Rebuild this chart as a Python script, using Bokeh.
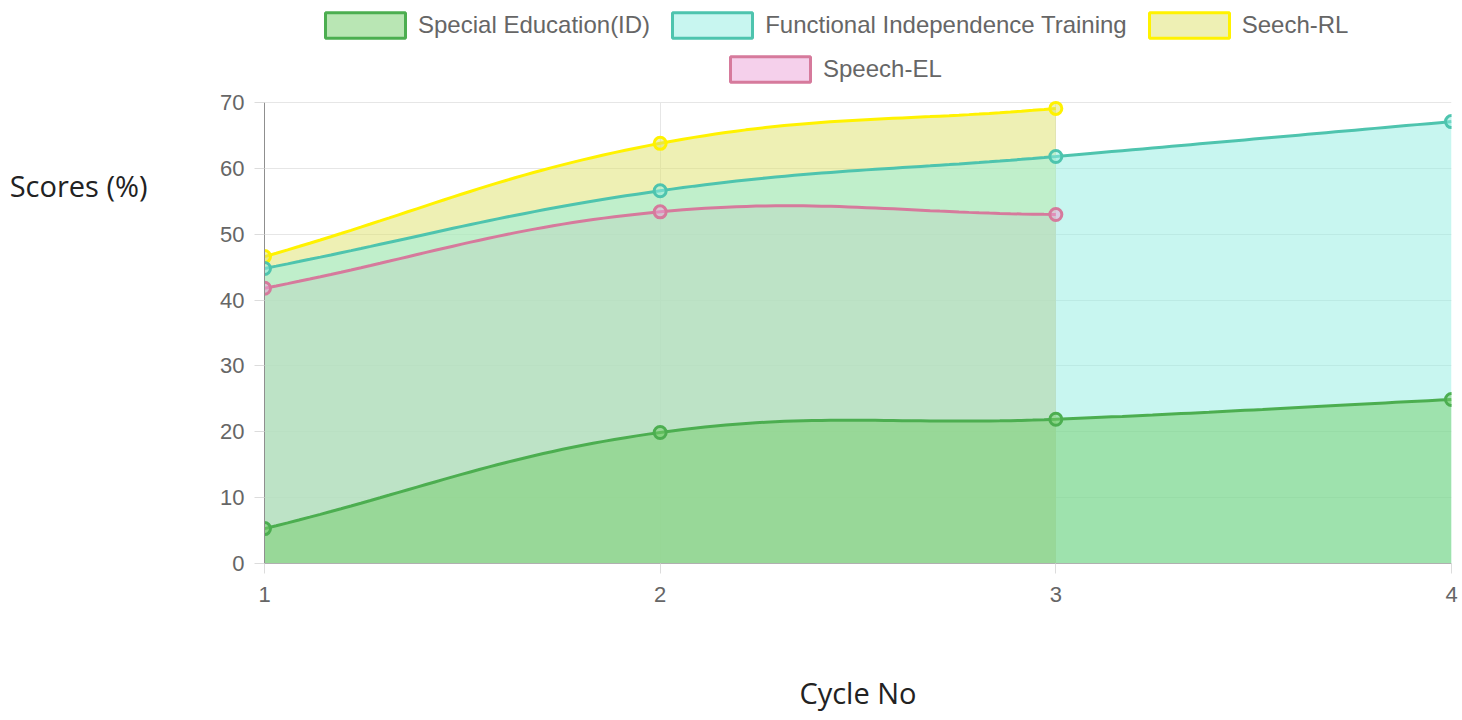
import numpy as np
from bokeh.plotting import figure
from bokeh.models import Legend, LegendItem, FixedTicker, LinearAxis
from bokeh.embed import file_html
from bokeh.resources import INLINE

# ---------------- data ----------------
cycles = [1, 2, 3, 4]
special_ed = [5.3, 19.9, 21.9, 24.9]
functional = [44.8, 56.6, 61.8, 67.1]
seech_rl = [46.6, 63.8, 69.1]
speech_el = [41.8, 53.4, 53.0]
series_names = ["Special Education(ID)", "Functional Independence Training", "Seech-RL", "Speech-EL"]
x_ticks = [1, 2, 3, 4]
y_ticks = [0, 10, 20, 30, 40, 50, 60, 70]

# ---------------- styles ----------------
line_colors = ["#4cae50", "#4ec4ae", "#fff200", "#d67a9c"]
fill_colors = ["#73cd69", "#91ede1", "#dde169", "#eba1d7"]
fill_alphas = [0.5, 0.5, 0.5, 0.5]

X0, X1, Y0, Y1 = 1, 4, 0, 70          # value extent of the chart area
PLOT_W, PLOT_H = 1187, 461            # pixel extent of the chart area
TOP_SPACE = 102                        # pixels above the chart area (legend zone)
SX = PLOT_W / (X1 - X0)
SY = PLOT_H / (Y1 - Y0)
TENSION = 0.4


def smooth(xs, ys, steps=40):
    """Cubic bezier smoothing (Chart.js-style line tension) evaluated in pixel space."""
    P = [np.array([(x - X0) * SX, (y - Y0) * SY]) for x, y in zip(xs, ys)]
    n = len(P)
    cprev, cnext = [None] * n, [None] * n
    for i in range(n):
        prev = P[i - 1] if i > 0 else P[i]
        nxt = P[i + 1] if i < n - 1 else P[i]
        d01 = np.linalg.norm(P[i] - prev)
        d12 = np.linalg.norm(nxt - P[i])
        tot = d01 + d12
        s01 = d01 / tot if tot else 0.0
        s12 = d12 / tot if tot else 0.0
        cprev[i] = P[i] - TENSION * s01 * (nxt - prev)
        cnext[i] = P[i] + TENSION * s12 * (nxt - prev)
    out = [P[0]]
    t = np.linspace(0, 1, steps + 1)[1:][:, None]
    for i in range(n - 1):
        a, b, c, d = P[i], cnext[i], cprev[i + 1], P[i + 1]
        pts = (1 - t) ** 3 * a + 3 * (1 - t) ** 2 * t * b + 3 * (1 - t) * t ** 2 * c + t ** 3 * d
        out.extend(list(pts))
    out = np.array(out)
    return out[:, 0] / SX + X0, out[:, 1] / SY + Y0


series = [special_ed, functional, seech_rl, speech_el]

p = figure(
    frame_width=PLOT_W, frame_height=PLOT_H + TOP_SPACE,
    x_range=(X0, X1), y_range=(Y0, Y1 + TOP_SPACE / SY),
    output_backend="svg", toolbar_location=None, title_location=None,
    min_border_left=264, min_border_top=0, min_border_right=10, min_border_bottom=140,
)
p.outline_line_color = None
p.background_fill_color = "white"

grid_color = "#e6e6e6"
has_cross = "cross_bounds" in p.xgrid[0].properties()
if not has_cross:
    p.segment(x0=x_ticks, x1=x_ticks, y0=[Y0] * len(x_ticks), y1=[Y1] * len(x_ticks),
              line_color=grid_color, line_width=1)

# fills (drawn last dataset first, like Chart.js)
for i in reversed(range(len(series))):
    ys = series[i]
    xs = cycles[:len(ys)]
    sx_, sy_ = smooth(xs, ys)
    p.varea(x=sx_, y1=0, y2=sy_, fill_color=fill_colors[i], fill_alpha=fill_alphas[i])

# lines and points
for i in reversed(range(len(series))):
    ys = series[i]
    xs = cycles[:len(ys)]
    sx_, sy_ = smooth(xs, ys)
    p.line(sx_, sy_, line_color=line_colors[i], line_width=3)
    p.scatter(xs, ys, size=12, marker="circle", line_color=line_colors[i], line_width=3,
              fill_color=fill_colors[i], fill_alpha=fill_alphas[i])

# legend swatches: quads with no drawable position, carrying only the box style
swatches = []
for i in range(len(series)):
    r = p.quad(left=[np.nan], right=[np.nan], top=[np.nan], bottom=[np.nan],
               fill_color=fill_colors[i], fill_alpha=fill_alphas[i],
               line_color=line_colors[i], line_width=3)
    swatches.append(r)


def make_legend(items, loc):
    return Legend(items=items, orientation="horizontal", location=loc,
                  glyph_width=100, glyph_height=32, label_standoff=3, spacing=12,
                  padding=0, margin=0, border_line_color=None, background_fill_alpha=0,
                  label_text_font="Liberation Sans", label_text_font_size="24px",
                  label_text_color="#666666", label_height=26)


plot_bottom = PLOT_H + TOP_SPACE
leg1 = make_legend([LegendItem(label=series_names[i], renderers=[swatches[i]]) for i in range(3)],
                   (51, plot_bottom - 41))
leg2 = make_legend([LegendItem(label=series_names[3], renderers=[swatches[3]])],
                   (456, plot_bottom - 85))
p.add_layout(leg1)
p.add_layout(leg2)

# axes
for ax in (p.xaxis[0], p.yaxis[0]):
    ax.major_label_text_font = "Liberation Sans"
    ax.major_label_text_font_size = "22px"
    ax.major_label_text_color = "#666666"
    ax.major_tick_out = 10
    ax.major_tick_in = 0
    ax.minor_tick_line_color = None
    ax.major_tick_line_color = "#dcdcdc"
    ax.major_label_standoff = 10
p.xaxis.major_label_standoff = 13

p.xaxis.ticker = FixedTicker(ticks=x_ticks)
p.yaxis.ticker = FixedTicker(ticks=y_ticks)
p.yaxis.bounds = (Y0, Y1)
p.yaxis.axis_line_color = "#8f8f8f"
p.xaxis.axis_line_color = "#b0b0b0"
p.xaxis.axis_label = "Cycle No"
p.xaxis.axis_label_text_font = "Open Sans"
p.xaxis.axis_label_text_font_size = "29px"
p.xaxis.axis_label_text_font_style = "normal"
p.xaxis.axis_label_text_color = "#222222"
p.xaxis.axis_label_standoff = 68

p.xgrid.ticker = FixedTicker(ticks=x_ticks)
p.ygrid.ticker = FixedTicker(ticks=y_ticks)
p.ygrid.bounds = (X0, X1)
p.xgrid.visible = has_cross
if has_cross:
    p.xgrid.cross_bounds = (Y0, Y1)
p.grid.grid_line_color = grid_color
p.grid.grid_line_width = 1

# y-axis title: horizontal text near the top-left (trailing blank lines lift it upward)
ylab_axis = LinearAxis(ticker=FixedTicker(ticks=[]),
                       axis_line_color=None, major_tick_line_color=None,
                       minor_tick_line_color=None, major_label_text_font_size="0px",
                       axis_label="Scores (%)" + "\n" * 4, axis_label_orientation="horizontal",
                       axis_label_text_font="Open Sans", axis_label_text_font_size="29px",
                       axis_label_text_font_style="normal", axis_label_text_color="#222222",
                       axis_label_text_line_height=1.24, axis_label_standoff=70)
p.add_layout(ylab_axis, "left")

open("out.html", "w").write(file_html(p, INLINE))
